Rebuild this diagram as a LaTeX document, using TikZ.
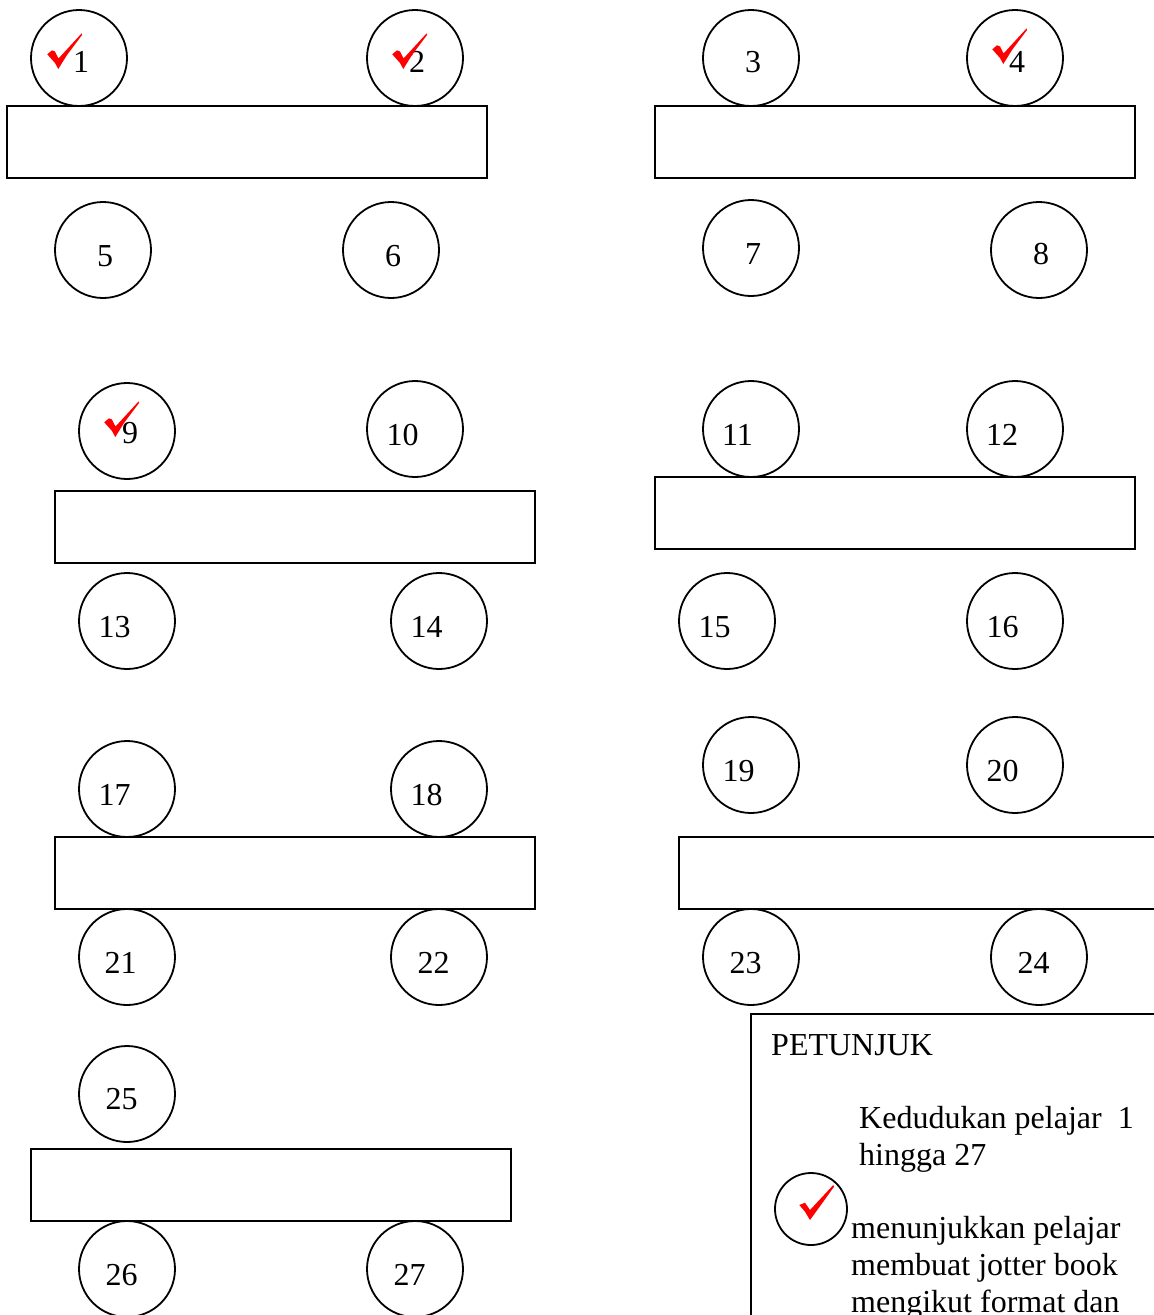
\documentclass[tikz,border=0pt]{standalone}
\usepackage{fontspec}
\setmainfont{Liberation Serif}
\tikzset{
  seat/.style={draw=black,line width=1.8pt,circle,minimum size=96pt,inner sep=0pt,outer sep=0pt},
  num/.style={font=\fontsize{32}{37}\selectfont,text=black,inner sep=0pt,anchor=base},
  desk/.style={draw=black,line width=1.8pt,rectangle,inner sep=0pt,outer sep=0pt,anchor=north west,minimum width=480pt,minimum height=72pt},
  note/.style={font=\fontsize{32}{37}\selectfont,text=black,inner sep=0pt,anchor=base west},
  pics/redtick/.style={code={\fill[red] (0.3,21.3) -- (5,17.3) -- (8,18.5) -- (11.5,25.5) -- (34.7,0.3) -- (35,2) -- (20,22) -- (11.3,36) -- (8,30) -- cycle;}},
  pics/thintick/.style={code={\fill[red] (0.3,20) -- (6,17.7) -- (11,25) -- (34.3,0) -- (35,1.7) -- (24.3,16.7) -- (11,35) -- (6,26.7) -- cycle;}}
}
\begin{document}
\begin{tikzpicture}[x=1pt,y=-1pt]
\useasboundingbox (0,0) rectangle (1154,1315);
\clip (0,0) rectangle (1154,1315);
\foreach \n/\cx/\cy/\lx/\ly in {
 1/79/58/81/72, 2/415/58/417/72, 3/751/58/753/72, 4/1015/58/1017/72,
 5/103/250/105/266, 6/391/250/393/266, 7/751/248/753/264, 8/1039/250/1041/264,
 9/127/431/130/443, 10/415/429/402.5/445, 11/751/429/737.5/445, 12/1015/429/1002/445,
 13/127/621/114.5/637, 14/439/621/426.5/637, 15/727/621/714.5/637, 16/1015/621/1002.5/637,
 17/127/789/114.5/805, 18/439/789/426.5/805, 19/751/765/738.5/781, 20/1015/765/1002.5/781,
 21/127/957/120.5/973, 22/439/957/433.5/973, 23/751/957/745.5/973, 24/1039/957/1033.5/973,
 25/127/1094/121.5/1109, 26/127/1269/121.5/1285, 27/415/1269/409.5/1285}{
  \node[seat] (s\n) at (\cx,\cy) {};
  \node[num] (t\n) at (\lx,\ly) {\n};
}
\foreach \k/\x/\y in {a/7/106, b/655/106, c/55/491, d/655/477, e/55/837, f/679/837, g/31/1149}{
  \node[desk] (desk\k) at (\x,\y) {};
}
\pic at (47,33) {redtick};
\pic at (392,33) {redtick};
\pic at (992,28) {redtick};
\pic at (104,401) {redtick};
\node[draw=black,line width=1.8pt,rectangle,anchor=north west,minimum width=420pt,minimum height=330pt,inner sep=0pt,outer sep=0pt] (legend) at (751,1014) {};
\node[note] (n1) at (771,1055) {PETUNJUK};
\node[note] (n2) at (859,1128) {Kedudukan pelajar\ \ 1};
\node[note] (n3) at (859,1165) {hingga 27};
\node[draw=black,line width=1.8pt,circle,minimum size=72pt,inner sep=0pt,outer sep=0pt] (legendseat) at (811,1209) {};
\pic at (799,1185) {thintick};
\node[note] (n4) at (851,1238) {menunjukkan pelajar};
\node[note] (n5) at (851,1275) {membuat jotter book};
\node[note] (n6) at (851,1312) {mengikut format dan};
\end{tikzpicture}
\end{document}
